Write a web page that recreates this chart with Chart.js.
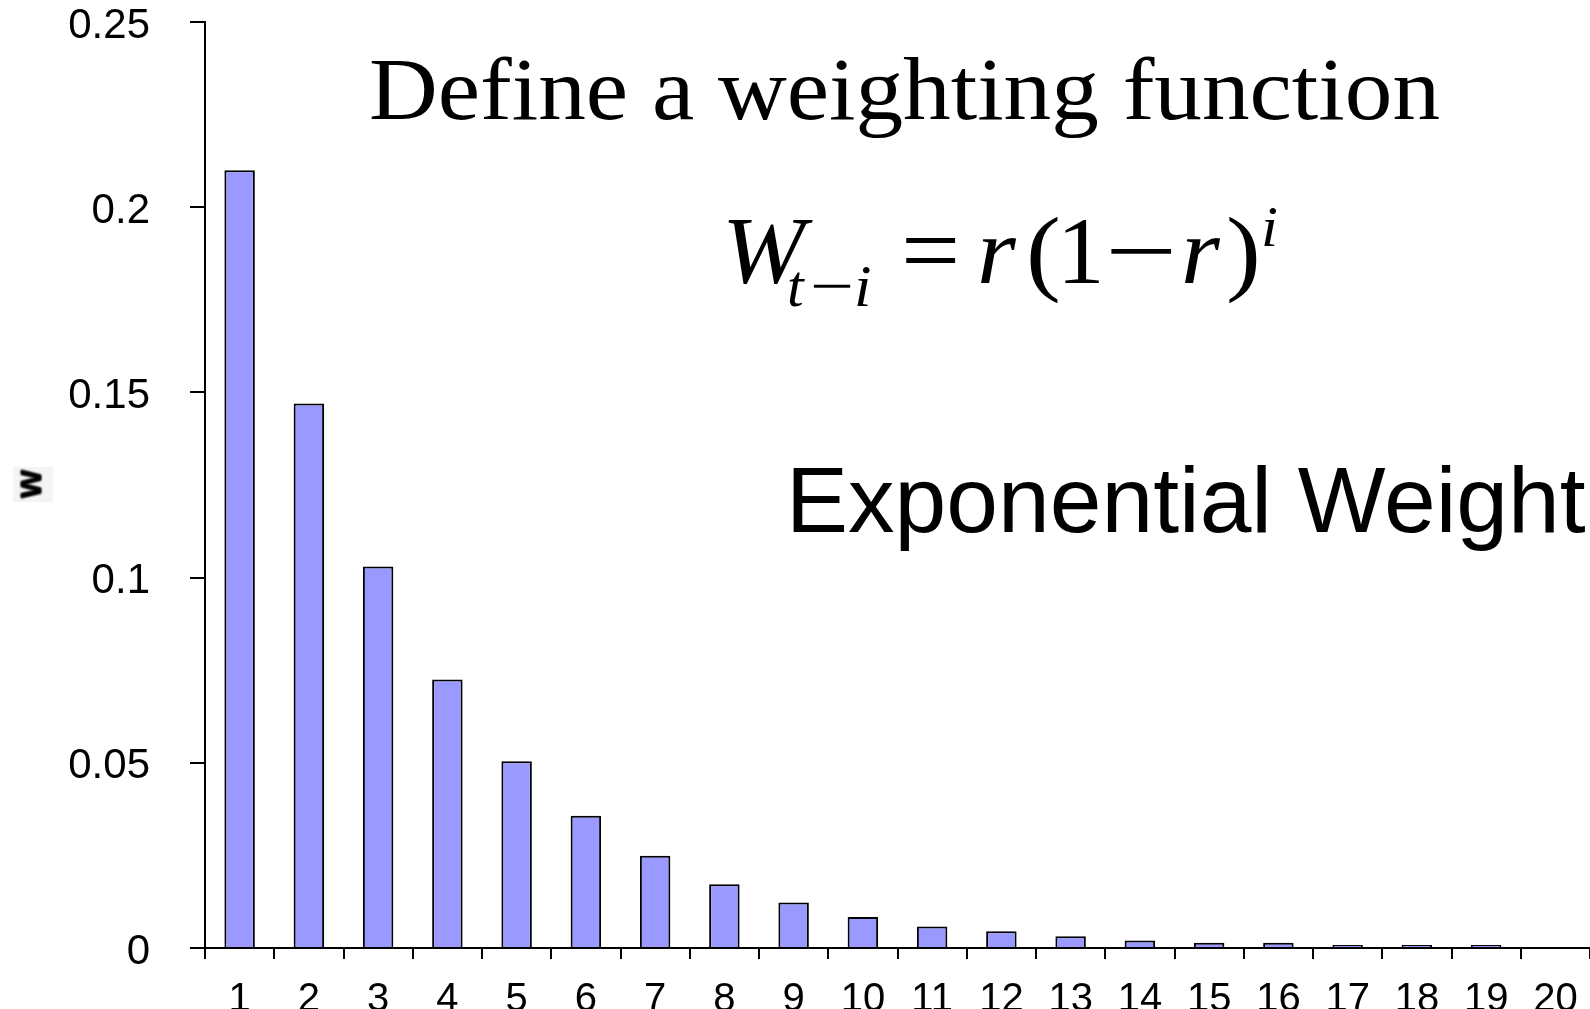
<!DOCTYPE html>
<html lang="en">
  <head>
    <meta charset="UTF-8" />
    <title>Exponential Weight</title>
    <script src="https://cdn.jsdelivr.net/npm/chart.js"></script>
    <style>
      html, body { margin: 0; padding: 0; background: #fff; }
      canvas { display: block; }
    </style>
  </head>
  <body>
    <canvas id="weightChart" width="1590" height="1009"></canvas>

    <script>
      // lag index i and the weight given to each lag
      const lags = ['1', '2', '3', '4', '5', '6', '7', '8', '9', '10',
                    '11', '12', '13', '14', '15', '16', '17', '18', '19', '20'];
      const weights = [0.210, 0.147, 0.103, 0.0725, 0.0504, 0.0357, 0.0249, 0.0172, 0.0123, 0.0084,
                       0.0058, 0.0045, 0.0032, 0.0020, 0.0014, 0.0014, 0.0008, 0.0008, 0.0008, null];
      const yTicks = [0, 0.05, 0.1, 0.15, 0.2, 0.25];

      const SANS = '"Liberation Sans", Arial, sans-serif';
      const SERIF = '"Liberation Serif", "Times New Roman", serif';

      // formula pieces: text, font, x, baseline, horizontal stretch
      const formula = [
        ['W', 'italic 95px ' + SERIF, 722, 283, 1.05],
        ['t', 'italic 60px ' + SERIF, 787, 306, 1.0],
        ['\u2212', '60px ' + SERIF, 810, 306, 1.3],
        ['i', 'italic 60px ' + SERIF, 854, 306, 1.05],
        ['=', '100px ' + SERIF, 901, 284, 1.05],
        ['r', 'italic 95px ' + SERIF, 977, 283, 1.05],
        ['(', '95px ' + SERIF, 1026, 283, 1.1],
        ['1', '95px ' + SERIF, 1057, 283, 1.0],
        ['\u2212', '95px ' + SERIF, 1105, 283, 1.35],
        ['r', 'italic 95px ' + SERIF, 1181, 283, 1.05],
        [')', '95px ' + SERIF, 1226, 283, 1.1],
        ['i', 'italic 58px ' + SERIF, 1261, 246, 1.05]
      ];

      const annotate = {
        id: 'annotate',
        afterDraw(chart) {
          const ctx = chart.ctx;
          ctx.save();
          ctx.fillStyle = '#000';
          ctx.textBaseline = 'alphabetic';
          ctx.textAlign = 'left';

          ctx.save();
          ctx.font = '89px ' + SERIF;
          ctx.translate(369, 119);
          ctx.scale(1.07, 1);
          ctx.fillText('Define a weighting function', 0, 0);
          ctx.restore();

          formula.forEach(([txt, font, x, y, sx]) => {
            ctx.save();
            ctx.font = font;
            ctx.translate(x, y);
            ctx.scale(sx, 1);
            ctx.fillText(txt, 0, 0);
            ctx.restore();
          });

          ctx.font = '93px ' + SANS;
          ctx.fillText('Exponential Weight', 786, 532);

          // axis title "w", a little soft
          ctx.fillStyle = '#f4f4f4';
          ctx.fillRect(13, 467, 40, 35);
          ctx.translate(31, 484);
          ctx.rotate(-Math.PI / 2);
          ctx.filter = 'blur(0.9px)';
          ctx.fillStyle = '#000';
          ctx.font = 'bold 36px ' + SANS;
          ctx.textAlign = 'center';
          ctx.textBaseline = 'middle';
          ctx.fillText('w', 0, 0);
          ctx.fillText('w', 0, 0);
          ctx.restore();
        }
      };

      new Chart(document.getElementById('weightChart'), {
        type: 'bar',
        data: {
          labels: lags,
          datasets: [{
            data: weights,
            backgroundColor: '#9999ff',
            borderColor: '#000',
            borderWidth: 2,
            barPercentage: 0.44,
            categoryPercentage: 1
          }]
        },
        options: {
          responsive: false,
          animation: false,
          layout: { padding: { top: 22, right: 0, bottom: 0, left: 0 } },
          plugins: { legend: { display: false }, tooltip: { enabled: false } },
          scales: {
            x: {
              grid: { drawOnChartArea: false, color: '#000', lineWidth: 2, tickLength: 11 },
              border: { color: '#000', width: 2 },
              ticks: {
                color: '#000',
                font: { family: SANS, size: 40 },
                padding: 17,
                maxRotation: 0,
                autoSkip: false
              },
              afterFit(scale) {
                scale.height = 61;
                scale.paddingLeft = 0;
                scale.paddingRight = 0;
              }
            },
            y: {
              min: 0,
              max: 0.25,
              grid: { drawOnChartArea: false, color: '#000', lineWidth: 2, tickLength: 15 },
              border: { color: '#000', width: 2 },
              ticks: {
                color: '#000',
                font: { family: SANS, size: 42, lineHeight: 1.1 },
                padding: 40,
                labelOffset: 4,
                callback: v => String(+v.toFixed(2))
              },
              afterBuildTicks(scale) {
                scale.ticks = yTicks.map(v => ({ value: v }));
              },
              afterFit(scale) {
                scale.width = 205;
                scale.paddingTop = 0;
                scale.paddingBottom = 0;
              }
            }
          }
        },
        plugins: [annotate]
      });
    </script>
  </body>
</html>
